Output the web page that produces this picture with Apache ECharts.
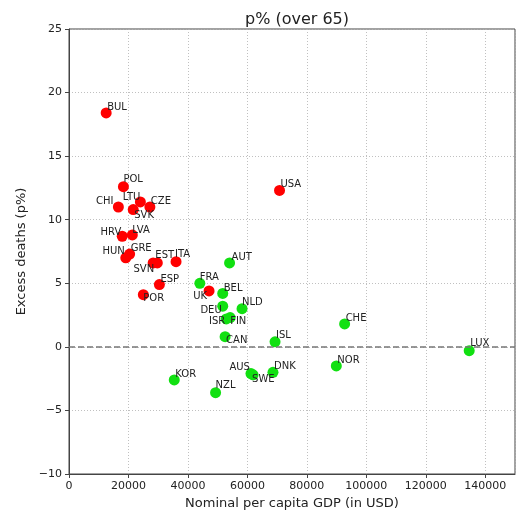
<!DOCTYPE html>
<html>
<head>
<meta charset="utf-8">
<script src="https://cdn.jsdelivr.net/npm/echarts@6/dist/echarts.min.js"></script>
<style>
  html, body { margin: 0; padding: 0; background: #fff; }
  #chart { width: 525px; height: 518px; }
</style>
</head>
<body>
<div id="chart"></div>
<script>
// countries above the trend (red)
const redCountries = ['BUL', 'POL', 'LTU', 'CHI', 'CZE', 'SVK', 'HRV', 'LVA', 'HUN', 'GRE', 'SVN', 'EST', 'ITA', 'ESP', 'POR', 'UK', 'USA'];
const redGdp = [12500, 18300, 24000, 16600, 27200, 21600, 17900, 21300, 19100, 20400, 28300, 29700, 36000, 30400, 25000, 47100, 70800];
const redExcess = [18.4, 12.6, 11.4, 11.0, 11.0, 10.8, 8.7, 8.8, 7.0, 7.3, 6.6, 6.6, 6.7, 4.9, 4.1, 4.4, 12.3];

// countries below the trend (green)
const greenCountries = ['FRA', 'AUT', 'BEL', 'DEU', 'NLD', 'ISR', 'FIN', 'CAN', 'ISL', 'KOR', 'AUS', 'SWE', 'DNK', 'NZL', 'CHE', 'NOR', 'LUX'];
const greenGdp = [44000, 54000, 51700, 51700, 58200, 52900, 54200, 52500, 69300, 35400, 61200, 61900, 68600, 49300, 92700, 89900, 134600];
const greenExcess = [5.0, 6.6, 4.2, 3.2, 3.0, 2.2, 2.3, 0.8, 0.4, -2.6, -2.1, -2.2, -2.0, -3.6, 1.8, -1.5, -0.3];

// label placement (align, dx, dy from the dot)
const labelPlace = {
  BUL: ['left', 1, -6], POL: ['left', 0, -7], LTU: ['right', 0, -5], CHI: ['right', -5, -6],
  CZE: ['left', 1, -6], SVK: ['left', 1, 6], HRV: ['right', -1, -4], LVA: ['left', 0, -5],
  HUN: ['right', -1, -6], GRE: ['left', 1, -6], SVN: ['right', 1, 6], EST: ['left', -2, -8],
  ITA: ['left', -1, -7], ESP: ['left', 1, -5], POR: ['left', 0, 4], UK: ['right', -2, 5],
  USA: ['left', 1, -6], FRA: ['left', 0, -6], AUT: ['left', 2, -6], BEL: ['left', 1, -5],
  DEU: ['right', -1, 4], NLD: ['left', 0, -6], ISR: ['right', -1, 3], FIN: ['left', 0, 4],
  CAN: ['left', 1, 4], ISL: ['left', 1, -6], KOR: ['left', 1, -6], AUS: ['right', -1, -6],
  SWE: ['left', -1, 5], DNK: ['left', 1, -6], NZL: ['left', 0, -7], CHE: ['left', 1, -6],
  NOR: ['left', 1, -6], LUX: ['left', 1, -7]
};

const font = 'DejaVu Sans';

function makePoints(names, xs, ys) {
  return names.map((n, i) => {
    const p = labelPlace[n];
    return {
      name: n,
      value: [xs[i], ys[i]],
      label: { align: p[0], offset: [p[1], p[2]] }
    };
  });
}

// plain numbers, matplotlib-style minus sign
function tickFmt(v) {
  return String(v).replace('-', '\u2212');
}

const chart = echarts.init(document.getElementById('chart'));
chart.setOption({
  animation: false,
  title: {
    text: 'p% (over 65)',
    left: 292,
    top: 7,
    textAlign: 'center',
    textStyle: { fontFamily: font, fontSize: 16, fontWeight: 'normal', color: '#222' }
  },
  grid: {
    left: 69, right: 10, top: 29, bottom: 44,
    show: true, borderColor: '#444', borderWidth: 1, backgroundColor: '#fff'
  },
  xAxis: {
    type: 'value',
    min: 0, max: 150000, interval: 20000,
    name: 'Nominal per capita GDP (in USD)',
    nameLocation: 'middle',
    nameGap: 22,
    nameTextStyle: { fontFamily: font, fontSize: 13, color: '#222' },
    axisLine: { show: true, onZero: false, lineStyle: { color: '#444' } },
    axisTick: { show: true, length: 4, lineStyle: { color: '#444' } },
    axisLabel: { fontFamily: font, fontSize: 11, color: '#222', margin: 7, showMaxLabel: false, formatter: tickFmt },
    splitLine: { show: true, lineStyle: { color: '#b0b0b0', type: [1, 2], width: 0.8 } }
  },
  yAxis: {
    type: 'value',
    min: -10, max: 25, interval: 5,
    name: 'Excess deaths (p%)',
    nameLocation: 'middle',
    nameGap: 31,
    nameTextStyle: { fontFamily: font, fontSize: 13, color: '#222' },
    axisLine: { show: true, onZero: false, lineStyle: { color: '#444' } },
    axisTick: { show: true, length: 4, lineStyle: { color: '#444' } },
    axisLabel: { fontFamily: font, fontSize: 11, color: '#222', margin: 7, formatter: tickFmt },
    splitLine: { show: true, lineStyle: { color: '#b0b0b0', type: [1, 2], width: 0.8 } }
  },
  series: [
    {
      type: 'scatter',
      symbolSize: 11,
      itemStyle: { color: '#ff0000', opacity: 1 },
      label: {
        show: true, position: 'inside', verticalAlign: 'middle',
        formatter: '{b}', fontFamily: font, fontSize: 10, color: '#222'
      },
      data: makePoints(redCountries, redGdp, redExcess),
      markLine: {
        silent: true, symbol: 'none', label: { show: false },
        lineStyle: { color: '#777', type: [6, 3], width: 1.5 },
        data: [{ yAxis: 0 }]
      }
    },
    {
      type: 'scatter',
      symbolSize: 11,
      itemStyle: { color: '#11e011', opacity: 1 },
      label: {
        show: true, position: 'inside', verticalAlign: 'middle',
        formatter: '{b}', fontFamily: font, fontSize: 10, color: '#222'
      },
      data: makePoints(greenCountries, greenGdp, greenExcess)
    }
  ]
});
</script>
</body>
</html>
